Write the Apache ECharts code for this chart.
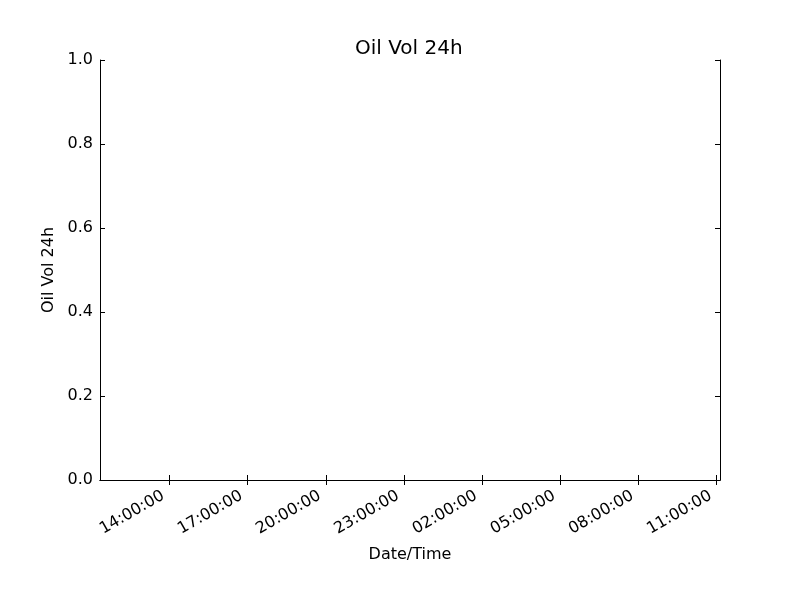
<!DOCTYPE html>
<html>
<head>
<meta charset="utf-8">
<script src="https://cdn.jsdelivr.net/npm/echarts@6/dist/echarts.min.js"></script>
<style>html,body{margin:0;padding:0;background:#fff}#c{width:800px;height:600px}</style>
</head>
<body>
<div id="c"></div>
<script>
// Data (the reference plot contains no data points)
var chartTitle = 'Oil Vol 24h';
var xAxisName = 'Date/Time';
var yAxisName = 'Oil Vol 24h';
var oilVol24h = [];
var xRange = [new Date(2016, 2, 1, 11, 20, 18).getTime(), new Date(2016, 2, 2, 11, 7, 36).getTime()];
var xTicks = [
  new Date(2016, 2, 1, 14, 0, 0).getTime(),
  new Date(2016, 2, 1, 17, 0, 0).getTime(),
  new Date(2016, 2, 1, 20, 0, 0).getTime(),
  new Date(2016, 2, 1, 23, 0, 0).getTime(),
  new Date(2016, 2, 2, 2, 0, 0).getTime(),
  new Date(2016, 2, 2, 5, 0, 0).getTime(),
  new Date(2016, 2, 2, 8, 0, 0).getTime(),
  new Date(2016, 2, 2, 11, 0, 0).getTime()
];
var yRange = [0, 1];
var yStep = 0.2;

function pad(n){ return (n < 10 ? '0' : '') + n; }
function fmtTime(v){ var d = new Date(v); return pad(d.getHours()) + ':' + pad(d.getMinutes()) + ':' + pad(d.getSeconds()); }

var FONT = 'DejaVu Sans';
var lineStyle = { color: '#000', width: 1 };
var chart = echarts.init(document.getElementById('c'), null, { renderer: 'canvas' });
chart.setOption({
  animation: false,
  backgroundColor: '#fff',
  title: {
    text: chartTitle,
    left: 350,
    top: 34,
    textStyle: { fontFamily: FONT, fontSize: 20, fontWeight: 'normal', color: '#000' }
  },
  grid: { left: 100, right: 80, top: 60, bottom: 120, containLabel: false, show: false },
  xAxis: [{
    type: 'value',
    min: xRange[0], max: xRange[1],
    position: 'bottom',
    name: xAxisName,
    nameLocation: 'middle',
    nameGap: 67,
    nameTextStyle: { fontFamily: FONT, fontSize: 16, color: '#000' },
    axisLine: { show: true, lineStyle: lineStyle },
    axisTick: { show: true, inside: true, length: 5, lineStyle: lineStyle, customValues: xTicks },
    axisLabel: { show: true, rotate: 30, margin: 11, padding: [0, 7, 0, 0], customValues: xTicks, formatter: fmtTime,
      fontFamily: FONT, fontSize: 16, color: '#000', hideOverlap: false, showMinLabel: true, showMaxLabel: true },
    splitLine: { show: false }
  }, {
    type: 'value',
    min: xRange[0], max: xRange[1],
    position: 'top',
    axisLine: { show: true, lineStyle: lineStyle },
    axisTick: { show: true, inside: true, length: 5, lineStyle: lineStyle, customValues: xTicks },
    axisLabel: { show: false },
    splitLine: { show: false }
  }],
  yAxis: [{
    type: 'value',
    min: yRange[0], max: yRange[1], interval: yStep,
    position: 'left',
    name: yAxisName,
    nameLocation: 'middle',
    nameGap: 38,
    nameTextStyle: { fontFamily: FONT, fontSize: 16, color: '#000' },
    axisLine: { show: true, lineStyle: lineStyle },
    axisTick: { show: true, inside: true, length: 5, lineStyle: lineStyle },
    axisLabel: { show: true, margin: 7, formatter: function(v){ return v.toFixed(1); },
      fontFamily: FONT, fontSize: 16, color: '#000' },
    splitLine: { show: false }
  }, {
    type: 'value',
    min: yRange[0], max: yRange[1], interval: yStep,
    position: 'right',
    axisLine: { show: true, lineStyle: lineStyle },
    axisTick: { show: true, inside: true, length: 5, lineStyle: lineStyle },
    axisLabel: { show: false },
    splitLine: { show: false }
  }],
  series: [{
    type: 'line',
    xAxisIndex: 0, yAxisIndex: 0,
    data: oilVol24h,
    showSymbol: false,
    lineStyle: { color: '#0000ff', width: 1 }
  }]
});
</script>
</body>
</html>
